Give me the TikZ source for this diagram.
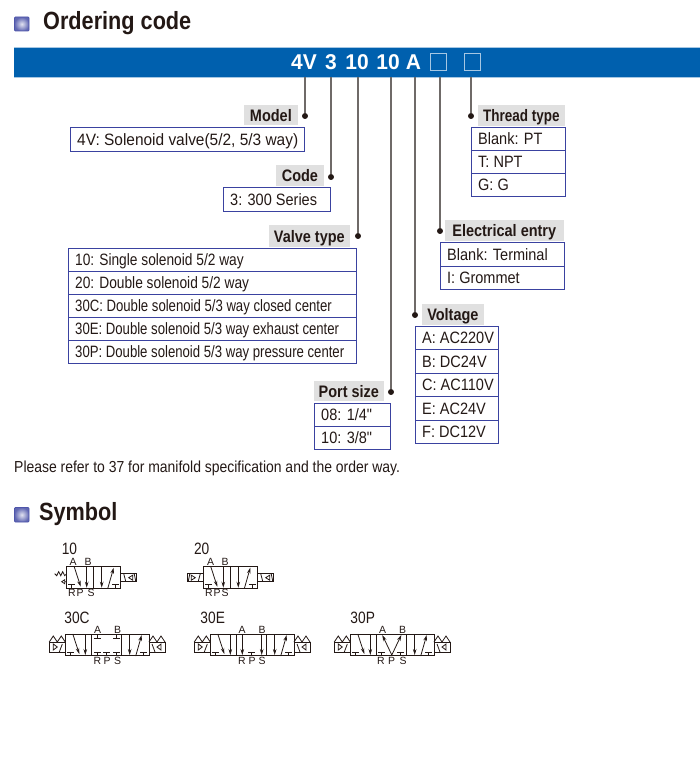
\documentclass[tikz,border=0pt]{standalone}
\usepackage{fontspec}
\setmainfont{Liberation Sans}
\newfontfamily\fthin[FakeStretch=0.80]{Liberation Sans}
\newfontfamily\fmid[FakeStretch=0.836]{Liberation Sans}
\newfontfamily\fnote[FakeStretch=0.875]{Liberation Sans}
\newfontfamily\fwide[FakeStretch=0.883]{Liberation Sans}
\newfontfamily\ffull[FakeStretch=0.94]{Liberation Sans}
\newfontfamily\fhead[FakeStretch=0.87]{Liberation Sans}
\newfontfamily\fthread[FakeStretch=0.81]{Liberation Sans}
\newfontfamily\fcode[FakeStretch=0.98]{Liberation Sans}
\usetikzlibrary{arrows.meta}
\definecolor{barblue}{HTML}{0060AE}
\definecolor{boxblue}{HTML}{3A42A0}
\definecolor{leadgray}{HTML}{6F6A68}
\definecolor{labelgray}{HTML}{E0E0E0}
\definecolor{inkdark}{HTML}{231815}
\tikzset{
  cellframe/.style={draw=boxblue,line width=1.3pt},
  celltext/.style={anchor=base west,inner sep=0pt,text=inkdark},
  taglabel/.style={fill=labelgray,anchor=north west,inner sep=0pt,outer sep=0pt,text=inkdark,text height=13pt,text depth=0pt,font=\fhead\bfseries\fontsize{16.7}{18}\selectfont},
  leadline/.style={draw=leadgray,line width=1.1pt},
  leaddot/.style={circle,fill=inkdark,inner sep=0pt,minimum size=6pt},
  heading/.style={anchor=base west,inner sep=0pt,text=inkdark,font=\fhead\bfseries\fontsize{25}{27}\selectfont},
  codetext/.style={anchor=base,inner sep=0pt,text=white,font=\fcode\bfseries\fontsize{21.5}{24}\selectfont},
  codebox/.style={draw=white!65!barblue,line width=0.9pt,inner sep=0pt,minimum size=16.5pt,anchor=north west},
  sym/.style={draw=inkdark,line width=0.8pt},
  symarrow/.style={sym,-{Stealth[length=6pt,width=3.6pt]}},
  portlabel/.style={inner sep=0pt,text=inkdark,font=\fontsize{10.5}{11}\selectfont},
  symname/.style={inner sep=0pt,text=inkdark,font=\fmid\fontsize{16.5}{18}\selectfont},
  iconsq/.style={rounded corners=1pt,draw=white!10!boxblue,line width=0.8pt,inner color=white!85!boxblue,outer color=white!20!boxblue}
}
\newcommand\bottomT[1]{\draw[sym] (#1-3.5,18) -- (#1+3.5,18) (#1,18) -- (#1,22);}
\newcommand\topT[1]{\draw[sym] (#1-3.5,4.5) -- (#1+3.5,4.5) (#1,4.5) -- (#1,0);}
\newcommand\cellL[1]{\bottomT{#1+5}
  \draw[symarrow] (#1+7.5,0) -- (#1+14,20);
  \draw[symarrow] (#1+20,0) -- (#1+20,21);}
\newcommand\cellR[1]{\bottomT{#1+22}
  \draw[symarrow] (#1+8,0) -- (#1+8,21);
  \draw[symarrow] (#1+14,22) -- (#1+20,1);}
\newcommand\smallsol{\draw[sym] (0,7) rectangle (16,14.5);
  \draw[sym] (3,7) -- (5,14.5) (8,11) -- (12,8.5) -- (12,13.5) -- cycle (13.5,7) -- (15,14.5);}
\newcommand\bigsol{\draw[sym] (0,8) rectangle (16,18);
  \draw[sym] (0,8) -- (4,2) -- (8,8) -- (12,2) -- (16,8);
  \draw[sym] (3,10) -- (6,18) (8,13) -- (12,10) -- (12,16) -- cycle;}
% name, x, y, width, height, font, text
\newcommand\tcell[7]{\draw[cellframe] (#2,#3) rectangle ++(#4,#5);
  \node[celltext,font=#6\fontsize{16.5}{18}\selectfont] (#1) at (#2+6.5,#3+#5*0.5+5.7) {#7};}
\begin{document}
\begin{tikzpicture}[x=1bp,y=-1bp]
\useasboundingbox (0,0) rectangle (700,763);
\shade[iconsq] (14.5,17) rectangle (29,31);
\node[heading] (h1) at (43,30) {Ordering code};
\fill[barblue] (14,47) rectangle (700,77);
\draw[white!65!barblue,line width=0.5pt] (14,77) -- (700,77) (14,47) -- (700,47);
\node[codetext] (c4v) at (304,70) {4V};
\node[codetext] (c3) at (331,70) {3};
\node[codetext] (c10a) at (357,70) {10};
\node[codetext] (c10b) at (388,70) {10};
\node[codetext] (cA) at (413.5,70) {A};
\node[codebox] (s1) at (430,53.5) {};
\node[codebox] (s2) at (464,53.5) {};
\node[taglabel,minimum width=55pt,minimum height=20pt] (tModel) at (243.5,105) {Model};
\node[taglabel,minimum width=49pt,minimum height=21pt] (tCode) at (275.5,165) {Code};
\node[taglabel,minimum width=82pt,minimum height=22pt] (tValve) at (268.5,225) {Valve type};
\node[taglabel,minimum width=70pt,minimum height=20pt] (tPort) at (314,381) {Port size};
\node[taglabel,minimum width=62pt,minimum height=21pt] (tVolt) at (422,304) {Voltage};
\node[taglabel,minimum width=119pt,minimum height=21pt] (tElec) at (445,220) {Electrical entry};
\node[taglabel,font=\fthread\bfseries\fontsize{16.7}{18}\selectfont,minimum width=88pt,minimum height=21pt] (tThread) at (477.5,105) {Thread type};
\node[leaddot] (dModel) at (305,116) {};
\node[leaddot] (dCode) at (331,177) {};
\node[leaddot] (dValve) at (358,236) {};
\node[leaddot] (dPort) at (391,392) {};
\node[leaddot] (dVolt) at (415,315) {};
\node[leaddot] (dElec) at (440,231) {};
\node[leaddot] (dThread) at (471,116) {};
\coordinate (bModel) at (305,77);
\coordinate (bCode) at (331,77);
\coordinate (bValve) at (358,77);
\coordinate (bPort) at (391,77);
\coordinate (bVolt) at (415,77);
\coordinate (bElec) at (440,77);
\coordinate (bThread) at (471,77);
\foreach \n in {Model,Code,Valve,Port,Volt,Elec,Thread}{\draw[leadline] (b\n) -- (d\n);}
\tcell{m1}{70.5}{127.5}{234}{24}{\ffull}{4V: Solenoid valve(5/2, 5/3 way)}
\tcell{k1}{223.5}{187.5}{107}{24}{\fwide}{3: 300 Series}
\tcell{v1}{68.5}{248.5}{288}{23}{\fmid}{10: Single solenoid 5/2 way}
\tcell{v2}{68.5}{271.5}{288}{23}{\fmid}{20: Double solenoid 5/2 way}
\tcell{v3}{68.5}{294.5}{288}{23}{\fthin}{30C: Double solenoid 5/3 way closed center}
\tcell{v4}{68.5}{317.5}{288}{23}{\fthin}{30E: Double solenoid 5/3 way exhaust center}
\tcell{v5}{68.5}{340.5}{288}{23}{\fthin}{30P: Double solenoid 5/3 way pressure center}
\tcell{p1}{314.5}{403.5}{76}{23}{\fwide}{08: 1/4"}
\tcell{p2}{314.5}{426.5}{76}{23}{\fwide}{10: 3/8"}
\tcell{u1}{415.5}{326.5}{83}{23}{\fwide}{A: AC220V}
\tcell{u2}{415.5}{349.5}{83}{24}{\fwide}{B: DC24V}
\tcell{u3}{415.5}{373.5}{83}{23}{\fwide}{C: AC110V}
\tcell{u4}{415.5}{396.5}{83}{24}{\fwide}{E: AC24V}
\tcell{u5}{415.5}{420.5}{83}{23}{\fwide}{F: DC12V}
\tcell{e1}{440.5}{242.5}{124}{24}{\fwide}{Blank: Terminal}
\tcell{e2}{440.5}{266.5}{124}{23}{\fwide}{I: Grommet}
\tcell{t1}{471.5}{127.5}{94}{23}{\fwide}{Blank: PT}
\tcell{t2}{471.5}{150.5}{94}{23}{\fwide}{T: NPT}
\tcell{t3}{471.5}{173.5}{94}{23}{\fwide}{G: G}
\node[celltext,font=\fnote\fontsize{16}{18}\selectfont] (note) at (14,472.5) {Please refer to 37 for manifold specification and the order way.};
\shade[iconsq] (14.5,507.5) rectangle (29,522);
\node[heading] (h2) at (39,520.5) {Symbol};
% valve 10
\node[symname] (n10) at (69.5,549) {10};
\begin{scope}[shift={(66.7,566.7)}]
  \draw[sym] (0,0) rectangle (54,22) (27,0) -- (27,22);
  \cellL{0}\cellR{27}
  \begin{scope}[shift={(54,0)}]\smallsol\end{scope}
  \draw[sym] (0,7) -- (-2,9) -- (-4,5) -- (-6,9) -- (-8,5) -- (-10,9) -- (-12,7);
  \draw[sym] (0,15) -- (-2,15) (-2,13) -- (-5,15) -- (-2,17) -- cycle;
\end{scope}
\node[portlabel] (a10) at (73,562) {A};
\node[portlabel] (b10) at (88,562) {B};
\node[portlabel] (r10) at (72,593) {R};
\node[portlabel] (p10) at (80,593) {P};
\node[portlabel] (s10) at (91,593) {S};
% valve 20
\node[symname] (n20) at (201.7,549) {20};
\begin{scope}[shift={(203.3,566.7)}]
  \draw[sym] (0,0) rectangle (54.4,22) (27,0) -- (27,22);
  \cellL{0}\cellR{27}
  \begin{scope}[shift={(54.4,0)}]\smallsol\end{scope}
  \begin{scope}[xscale=-1]\smallsol\end{scope}
\end{scope}
\node[portlabel] (a20) at (210.7,562) {A};
\node[portlabel] (b20) at (225,562) {B};
\node[portlabel] (r20) at (209,593) {R};
\node[portlabel] (p20) at (217,593) {P};
\node[portlabel] (s20) at (225,593) {S};
% valve 30C
\node[symname] (n30c) at (77,618) {30C};
\begin{scope}[shift={(65.3,634)}]
  \draw[sym] (0,0) rectangle (83.7,21) (26.4,0) -- (26.4,21) (56.4,0) -- (56.4,21);
  \cellL{0}\cellR{56.4}
  \topT{32}\topT{51.4}\bottomT{32}\bottomT{41.5}\bottomT{51.4}
  \begin{scope}[shift={(83.7,0)}]\bigsol\end{scope}
  \begin{scope}[xscale=-1]\bigsol\end{scope}
\end{scope}
\node[portlabel] (a30c) at (97.5,629.5) {A};
\node[portlabel] (b30c) at (117.5,629.5) {B};
\node[portlabel] (r30c) at (97.5,661) {R};
\node[portlabel] (p30c) at (107,661) {P};
\node[portlabel] (s30c) at (117.5,661) {S};
% valve 30E
\node[symname] (n30e) at (212.7,618) {30E};
\begin{scope}[shift={(210.3,634)}]
  \draw[sym] (0,0) rectangle (83.7,21) (26.4,0) -- (26.4,21) (56.4,0) -- (56.4,21);
  \cellL{0}\cellR{56.4}
  \draw[symarrow] (32,0) -- (32,21);
  \draw[symarrow] (51.4,0) -- (51.4,21);
  \bottomT{41.5}
  \begin{scope}[shift={(83.7,0)}]\bigsol\end{scope}
  \begin{scope}[xscale=-1]\bigsol\end{scope}
\end{scope}
\node[portlabel] (a30e) at (242,629.5) {A};
\node[portlabel] (b30e) at (262,629.5) {B};
\node[portlabel] (r30e) at (242,661) {R};
\node[portlabel] (p30e) at (252,661) {P};
\node[portlabel] (s30e) at (262,661) {S};
% valve 30P
\node[symname] (n30p) at (362.7,618) {30P};
\begin{scope}[shift={(350.3,634)}]
  \draw[sym] (0,0) rectangle (83.7,21) (26.4,0) -- (26.4,21) (56.4,0) -- (56.4,21);
  \cellL{0}\cellR{56.4}
  \bottomT{31}\bottomT{50.5}
  \draw[symarrow] (41.5,21) -- (32,1);
  \draw[symarrow] (41.5,21) -- (51,1);
  \begin{scope}[shift={(83.7,0)}]\bigsol\end{scope}
  \begin{scope}[xscale=-1]\bigsol\end{scope}
\end{scope}
\node[portlabel] (a30p) at (382.7,629.5) {A};
\node[portlabel] (b30p) at (402.7,629.5) {B};
\node[portlabel] (r30p) at (381,661) {R};
\node[portlabel] (p30p) at (391.7,661) {P};
\node[portlabel] (s30p) at (403,661) {S};
\end{tikzpicture}
\end{document}
